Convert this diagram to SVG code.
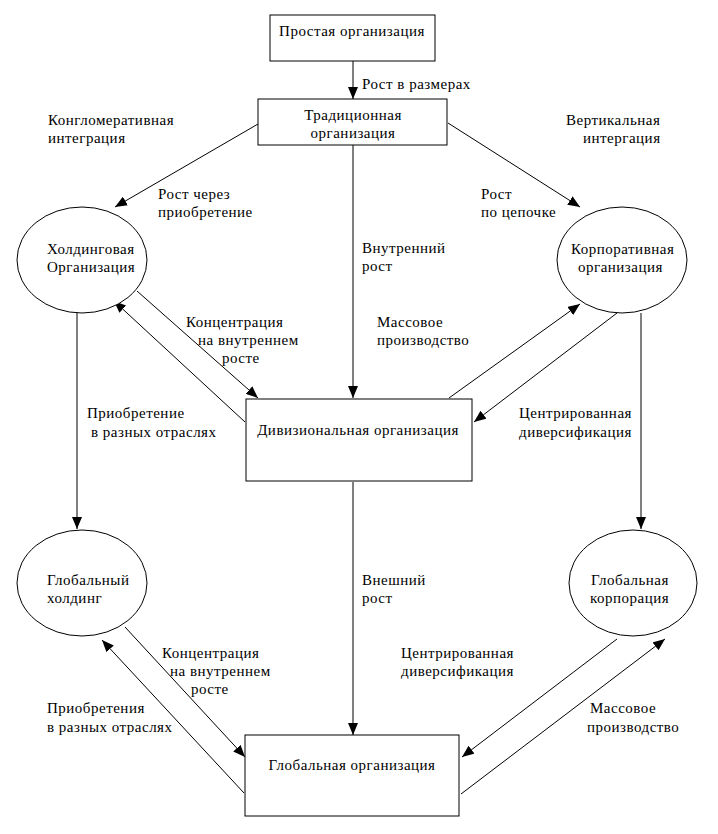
<svg xmlns="http://www.w3.org/2000/svg" width="718" height="834" viewBox="0 0 718 834">
<style>
  .n { fill: #fff; stroke: #000; stroke-width: 1; }
  .t { font-family: "Liberation Serif", "Times New Roman", serif; font-size: 15px; letter-spacing: 0.5px; fill: #000; }
  .c { text-anchor: middle; }
  .e { stroke: #000; stroke-width: 1; fill: none; marker-end: url(#ah); }
</style>
<defs>
  <marker id="ah" markerUnits="userSpaceOnUse" markerWidth="12" markerHeight="10" refX="12" refY="5" orient="auto">
    <path d="M0,0 L12,5 L0,10 z" fill="#000"/>
  </marker>
</defs>
<rect width="718" height="834" fill="#fff"/>
<g id="connectors">
  <line class="e" x1="353" y1="61" x2="353" y2="99"/>
  <line class="e" x1="258" y1="124" x2="115" y2="207"/>
  <line class="e" x1="448" y1="123" x2="580" y2="207"/>
  <line class="e" x1="353" y1="145" x2="353" y2="398"/>
  <line class="e" x1="137" y1="291" x2="258" y2="398"/>
  <line class="e" x1="245" y1="422" x2="114" y2="301"/>
  <line class="e" x1="449" y1="398" x2="580" y2="304"/>
  <line class="e" x1="617" y1="313" x2="474" y2="422"/>
  <line class="e" x1="77" y1="313" x2="77" y2="529"/>
  <line class="e" x1="641" y1="313" x2="641" y2="529"/>
  <line class="e" x1="353" y1="482" x2="353" y2="735"/>
  <line class="e" x1="125" y1="627" x2="245" y2="757"/>
  <line class="e" x1="244" y1="793" x2="102" y2="640"/>
  <line class="e" x1="617" y1="639" x2="462" y2="757"/>
  <line class="e" x1="461" y1="794" x2="665" y2="639"/>
</g>
<g id="labels">
  <text class="t" x="362" y="89">Рост в размерах</text>
  <text class="t" x="48" y="125">Конгломеративная</text>
  <text class="t" x="48" y="143">интеграция</text>
  <text class="t" x="566" y="125">Вертикальная</text>
  <text class="t" x="583" y="143">интергация</text>
  <text class="t" x="158" y="199">Рост через</text>
  <text class="t" x="158" y="217">приобретение</text>
  <text class="t" x="481" y="199">Рост</text>
  <text class="t" x="481" y="217">по цепочке</text>
  <text class="t" x="362" y="253">Внутренний</text>
  <text class="t" x="362" y="271">рост</text>
  <text class="t" x="186" y="327">Концентрация</text>
  <text class="t" x="198" y="345">на внутреннем</text>
  <text class="t" x="222" y="363">росте</text>
  <text class="t" x="377" y="327">Массовое</text>
  <text class="t" x="377" y="345">производство</text>
  <text class="t" x="87" y="418">Приобретение</text>
  <text class="t" x="91" y="437">в разных отраслях</text>
  <text class="t" x="519" y="418">Центрированная</text>
  <text class="t" x="519" y="437">диверсификация</text>
  <text class="t" x="362" y="585">Внешний</text>
  <text class="t" x="362" y="603">рост</text>
  <text class="t" x="162" y="658">Концентрация</text>
  <text class="t" x="170" y="676">на внутреннем</text>
  <text class="t" x="191" y="694">росте</text>
  <text class="t" x="401" y="658">Центрированная</text>
  <text class="t" x="401" y="676">диверсификация</text>
  <text class="t" x="47" y="713">Приобретения</text>
  <text class="t" x="47" y="732">в разных отраслях</text>
  <text class="t" x="590" y="713">Массовое</text>
  <text class="t" x="587" y="732">производство</text>
</g>
<g id="simple">
  <rect class="n" x="270" y="15" width="165" height="46"/>
  <text class="t c" x="352" y="36">Простая организация</text>
</g>
<g id="traditional">
  <rect class="n" x="258" y="99" width="189" height="46"/>
  <text class="t c" x="353" y="120">Традиционная</text>
  <text class="t c" x="353" y="138">организация</text>
</g>
<g id="holding">
  <ellipse class="n" cx="82" cy="260" rx="65" ry="53"/>
  <text class="t" x="47" y="254">Холдинговая</text>
  <text class="t" x="47" y="272">Организация</text>
</g>
<g id="corporate">
  <ellipse class="n" cx="622" cy="260" rx="65" ry="53"/>
  <text class="t" x="571" y="254">Корпоративная</text>
  <text class="t" x="578" y="272">организация</text>
</g>
<g id="divisional">
  <rect class="n" x="246" y="399" width="226" height="82"/>
  <text class="t c" x="358" y="435">Дивизиональная организация</text>
</g>
<g id="global-holding">
  <ellipse class="n" cx="82" cy="583" rx="65" ry="53"/>
  <text class="t" x="47" y="585">Глобальный</text>
  <text class="t" x="47" y="603">холдинг</text>
</g>
<g id="global-corporation">
  <ellipse class="n" cx="633" cy="583" rx="64" ry="53"/>
  <text class="t" x="591" y="585">Глобальная</text>
  <text class="t" x="590" y="603">корпорация</text>
</g>
<g id="global-organization">
  <rect class="n" x="245" y="735" width="214" height="81"/>
  <text class="t c" x="352" y="770">Глобальная организация</text>
</g>
</svg>
